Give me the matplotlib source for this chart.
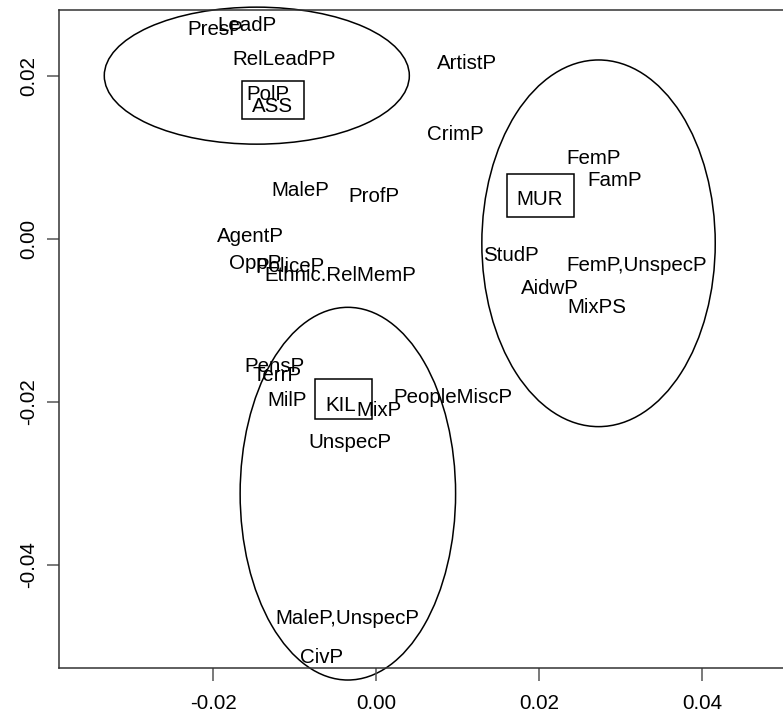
import matplotlib
matplotlib.use('Agg')
import matplotlib.pyplot as plt
from matplotlib.patches import Ellipse, Rectangle

plt.rcParams['font.family'] = ['Liberation Sans', 'DejaVu Sans']

# label positions (centre of each word)
labels = ['PresP', 'LeadP', 'RelLeadPP', 'PolP', 'ASS', 'MaleP', 'ProfP',
          'AgentP', 'OppP', 'PoliceP', 'Ethnic.RelMemP', 'ArtistP', 'CrimP',
          'FemP', 'FamP', 'MUR', 'StudP', 'FemP,UnspecP', 'AidwP', 'MixPS',
          'PensP', 'TerrP', 'MilP', 'KIL', 'MixP', 'PeopleMiscP', 'UnspecP',
          'MaleP,UnspecP', 'CivP']
xs = [-0.01979, -0.01587, -0.01133, -0.01329, -0.01272, -0.00929, -0.00028,
      -0.01542, -0.01488, -0.01055, -0.00442, 0.01119, 0.00973,
      0.02666, 0.02923, 0.02009, 0.01654, 0.03202, 0.02131, 0.02703,
      -0.01252, -0.01218, -0.01096, -0.00429, 0.00034, 0.00948, -0.00325,
      -0.00347, -0.00671]
ys = [0.02589, 0.02638, 0.02227, 0.01800, 0.01656, 0.00622, 0.00544,
      0.00049, -0.00282, -0.00319, -0.00421, 0.02175, 0.01307,
      0.01010, 0.00736, 0.00509, -0.00175, -0.00298, -0.00585, -0.00818,
      -0.01546, -0.01648, -0.01963, -0.02016, -0.02086, -0.01918, -0.02475,
      -0.04634, -0.05113]

# boxes round the cluster labels: centre x, centre y, width, height
box_x = [-0.01264, 0.02012, -0.00401]
box_y = [0.01706, 0.00531, -0.01963]
box_w = [0.00761, 0.00818, 0.00696]
box_h = [0.00466, 0.00531, 0.00491]

# cluster ellipses: centre x, centre y, width, height
ell_x = [-0.01464, 0.02728, -0.00347]
ell_y = [0.02004, -0.00053, -0.03125]
ell_w = [0.03742, 0.02863, 0.02643]
ell_h = [0.01681, 0.04499, 0.04573]

fig = plt.figure(figsize=(7.83, 7.17), dpi=100)
ax = fig.add_axes([0.0754, 0.0688, 0.9974, 0.9173])

for x, y, w, h in zip(ell_x, ell_y, ell_w, ell_h):
    ax.add_patch(Ellipse((x, y), w, h, fill=False, edgecolor='black',
                         linewidth=1.1, clip_on=False))

for x, y, w, h in zip(box_x, box_y, box_w, box_h):
    ax.add_patch(Rectangle((x - w / 2, y - h / 2), w, h, fill=False,
                           edgecolor='black', linewidth=1.1, clip_on=False))

for lab, x, y in zip(labels, xs, ys):
    ax.text(x, y, lab, ha='center', va='center_baseline', fontsize=14.8,
            color='black')

ax.set_xlim(-0.0389, 0.0569)
ax.set_ylim(-0.0526, 0.0281)

ax.set_xticks([-0.02, 0.00, 0.02, 0.04])
ax.set_xticklabels(['-0.02', '0.00', '0.02', '0.04'])
ax.set_yticks([-0.04, -0.02, 0.00, 0.02])
ax.set_yticklabels(['-0.04', '-0.02', '0.00', '0.02'], rotation=90,
                   va='center')
ax.tick_params(axis='both', length=9, width=1.1, color='#555555',
               labelsize=14.8, direction='out')
ax.tick_params(axis='x', pad=10)
ax.tick_params(axis='y', pad=6)

for sp in ax.spines.values():
    sp.set_linewidth(1.1)
    sp.set_color('#333333')

fig.savefig('out.png', dpi=100)
